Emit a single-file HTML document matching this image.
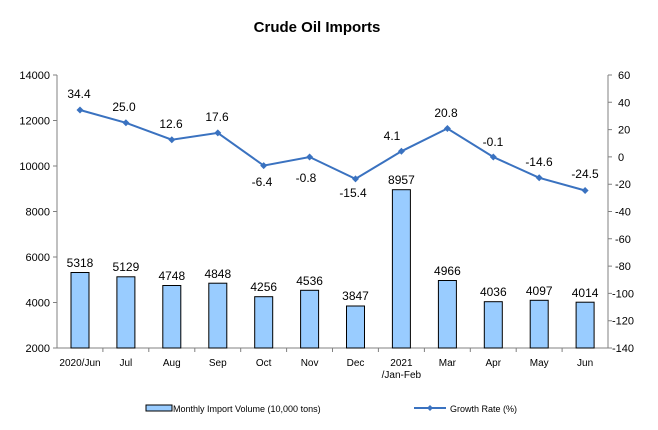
<!DOCTYPE html>
<html><head><meta charset="utf-8"><style>body{margin:0;background:#fff}svg{display:block}text{font-family:"Liberation Sans",Arial,sans-serif;fill:#000}</style></head><body>
<svg width="658" height="430" viewBox="0 0 658 430" xmlns="http://www.w3.org/2000/svg">
<rect width="658" height="430" fill="#fff"/>
<text x="317" y="32" font-size="15" font-weight="bold" text-anchor="middle">Crude Oil Imports</text>
<g stroke="#808080" stroke-width="1" fill="none">
<line x1="57" y1="75" x2="57" y2="348"/>
<line x1="608" y1="75" x2="608" y2="348"/>
<line x1="57" y1="348" x2="608" y2="348"/>
<path d="M53 75H57M53 120.5H57M53 166H57M53 211.5H57M53 257H57M53 302.5H57M53 348H57"/>
<path d="M608 75H612M608 102.3H612M608 129.6H612M608 156.9H612M608 184.2H612M608 211.5H612M608 238.8H612M608 266.1H612M608 293.4H612M608 320.7H612M608 348H612"/>
<path d="M102.9 348V352M148.8 348V352M194.8 348V352M240.7 348V352M286.6 348V352M332.5 348V352M378.4 348V352M424.4 348V352M470.3 348V352M516.2 348V352M562.1 348V352"/>
</g>
<g font-size="11" text-anchor="end">
<text x="50" y="79">14000</text><text x="50" y="124.5">12000</text><text x="50" y="170">10000</text><text x="50" y="215.5">8000</text><text x="50" y="261">6000</text><text x="50" y="306.5">4000</text><text x="50" y="352">2000</text>
</g>
<g font-size="11">
<text x="618" y="79">60</text><text x="618" y="106.3">40</text><text x="618" y="133.6">20</text><text x="618" y="160.9">0</text><text x="615" y="188.2">-20</text><text x="615" y="215.5">-40</text><text x="615" y="242.8">-60</text><text x="615" y="270.1">-80</text><text x="612" y="297.4">-100</text><text x="612" y="324.7">-120</text><text x="612" y="352">-140</text>
</g>
<g fill="#99ccff" stroke="#000" stroke-width="1">
<rect x="71" y="272.5" width="18" height="75.5"/>
<rect x="116.9" y="276.8" width="18" height="71.2"/>
<rect x="162.8" y="285.5" width="18" height="62.5"/>
<rect x="208.8" y="283.2" width="18" height="64.8"/>
<rect x="254.7" y="296.7" width="18" height="51.3"/>
<rect x="300.6" y="290.3" width="18" height="57.7"/>
<rect x="346.5" y="306" width="18" height="42"/>
<rect x="392.4" y="189.7" width="18" height="158.3"/>
<rect x="438.4" y="280.5" width="18" height="67.5"/>
<rect x="484.3" y="301.7" width="18" height="46.3"/>
<rect x="530.2" y="300.3" width="18" height="47.7"/>
<rect x="576.1" y="302.2" width="18" height="45.8"/>
</g>
<g font-size="12" text-anchor="middle">
<text x="80" y="267">5318</text><text x="125.9" y="271">5129</text><text x="171.8" y="280">4748</text><text x="217.8" y="278">4848</text><text x="263.7" y="291">4256</text><text x="309.6" y="285">4536</text><text x="355.5" y="300">3847</text><text x="401.4" y="184">8957</text><text x="447.4" y="275">4966</text><text x="493.3" y="296">4036</text><text x="539.2" y="295">4097</text><text x="585.1" y="297">4014</text>
</g>
<polyline fill="none" stroke="#3a72c0" stroke-width="2" points="80,110 125.9,122.8 171.8,139.7 217.8,132.9 263.7,165.6 309.6,157 355.5,178.9 401.4,151.3 447.4,128.5 493.3,157 539.2,177.8 585.1,190.5"/>
<g fill="#3a72c0">
<path d="M80 106.5l3.5 3.5-3.5 3.5-3.5-3.5z"/><path d="M125.9 119.3l3.5 3.5-3.5 3.5-3.5-3.5z"/><path d="M171.8 136.2l3.5 3.5-3.5 3.5-3.5-3.5z"/><path d="M217.8 129.4l3.5 3.5-3.5 3.5-3.5-3.5z"/><path d="M263.7 162.1l3.5 3.5-3.5 3.5-3.5-3.5z"/><path d="M309.6 153.5l3.5 3.5-3.5 3.5-3.5-3.5z"/><path d="M355.5 175.4l3.5 3.5-3.5 3.5-3.5-3.5z"/><path d="M401.4 147.8l3.5 3.5-3.5 3.5-3.5-3.5z"/><path d="M447.4 125l3.5 3.5-3.5 3.5-3.5-3.5z"/><path d="M493.3 153.5l3.5 3.5-3.5 3.5-3.5-3.5z"/><path d="M539.2 174.3l3.5 3.5-3.5 3.5-3.5-3.5z"/><path d="M585.1 187l3.5 3.5-3.5 3.5-3.5-3.5z"/>
</g>
<g font-size="12" text-anchor="middle">
<text x="79" y="98">34.4</text><text x="124" y="111">25.0</text><text x="171" y="128">12.6</text><text x="217" y="121">17.6</text><text x="262" y="186">-6.4</text><text x="306" y="182">-0.8</text><text x="353" y="197">-15.4</text><text x="392" y="140">4.1</text><text x="446" y="117">20.8</text><text x="493" y="146">-0.1</text><text x="539" y="166">-14.6</text><text x="585" y="178">-24.5</text>
</g>
<g font-size="10" text-anchor="middle">
<text x="80" y="366">2020/Jun</text><text x="125.9" y="366">Jul</text><text x="171.8" y="366">Aug</text><text x="217.8" y="366">Sep</text><text x="263.7" y="366">Oct</text><text x="309.6" y="366">Nov</text><text x="355.5" y="366">Dec</text><text x="401.4" y="366">2021</text><text x="401.4" y="378">/Jan-Feb</text><text x="447.4" y="366">Mar</text><text x="493.3" y="366">Apr</text><text x="539.2" y="366">May</text><text x="585.1" y="366">Jun</text>
</g>
<rect x="146" y="405" width="26" height="6" fill="#99ccff" stroke="#000" stroke-width="1"/>
<text x="173" y="412" font-size="9">Monthly Import Volume (10,000 tons)</text>
<line x1="414" y1="408" x2="446" y2="408" stroke="#3a72c0" stroke-width="2"/>
<path d="M430 405l3 3-3 3-3-3z" fill="#3a72c0"/>
<text x="450" y="412" font-size="9">Growth Rate (%)</text>
</svg>
</body></html>
